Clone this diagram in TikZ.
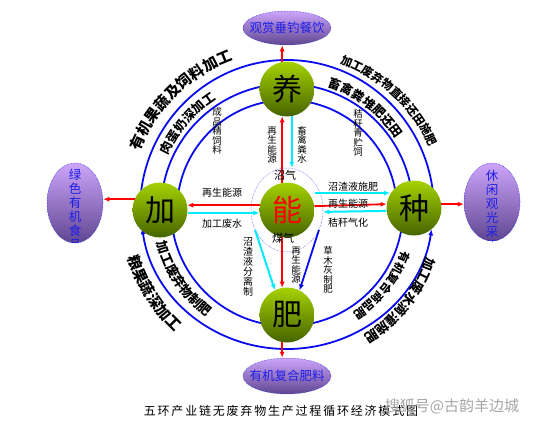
\documentclass[tikz,border=0pt]{standalone}
\usepackage{fontspec}
\setmainfont{Noto Sans CJK SC}
\usetikzlibrary{arrows.meta,calc,shapes.geometric,decorations.text}
\definecolor{gtop}{RGB}{165,210,0}
\definecolor{gbot}{RGB}{70,100,0}
\definecolor{ptop}{RGB}{205,165,250}
\definecolor{pbot}{RGB}{95,70,145}
\definecolor{myblue}{RGB}{10,10,240}
\definecolor{mycyan}{RGB}{0,235,255}
\definecolor{ptext}{RGB}{30,30,230}
\newcommand\fA{\bfseries\fontsize{15}{15}\selectfont}
\newcommand\fB{\bfseries\fontsize{12.5}{12.5}\selectfont}
\newcommand\fC{\bfseries\fontsize{11.5}{11.5}\selectfont}
\newcommand\fD{\bfseries\fontsize{13}{13}\selectfont}
\tikzset{
  gnode/.style={circle, minimum size=55pt, inner sep=0pt, top color=gtop, bottom color=gbot, font=\fontsize{30}{30}\selectfont},
  pnode/.style={ellipse, inner sep=0pt, top color=ptop, bottom color=pbot, draw=ptext, densely dotted, line width=0.5pt},
  ptxt/.style={text=ptext, font=\fontsize{12.5}{14}\selectfont, inner sep=0pt, align=center},
  redarr/.style={draw=red, line width=1.8pt, -{Latex[length=6pt,width=5pt]}},
  cyanarr/.style={draw=mycyan, line width=2pt, -{Latex[length=6pt,width=5pt]}},
  bluearr/.style={draw=myblue, line width=1.8pt, -{Latex[length=6pt,width=5pt]}},
  arcline/.style={draw=myblue, line width=1.8pt},
  lab/.style={font=\fontsize{10}{10}\selectfont, inner sep=0pt},
  vlab/.style={font=\fontsize{9.5}{9.5}\selectfont, inner sep=0pt, align=center},
  arctext/.style={decorate, decoration={text along path, text align=center, text={#1}}},
}
\begin{document}
\begin{tikzpicture}[x=1pt,y=1pt]
\fill[white] (0,0) rectangle (553,-423);
\useasboundingbox (0,0) rectangle (553,-423);
\coordinate (C) at (287,-210);

% arcs
\draw[arcline] ($(C)+(176:147pt and 150pt)$) arc[start angle=176, end angle=4, x radius=147pt, y radius=150pt];
\draw[arcline] ($(C)+(170:126pt)$) arc[start angle=170, end angle=10, radius=126pt];
\draw[arcline] ($(C)+(173:110pt)$) arc[start angle=173, end angle=8, radius=110pt];
\draw[arcline, {Latex[length=6pt,width=5pt]}-{Latex[length=6pt,width=5pt]}] ($(C)+(187.5:146pt and 139pt)$) arc[start angle=187.5, end angle=352, x radius=146pt, y radius=139pt];
\draw[arcline] ($(C)+(185:116pt)$) arc[start angle=185, end angle=355, radius=116pt];

% arc texts
\path[arctext={|\fA|有机果蔬及饲料加工}] ($(C)+(175:159pt)$) arc[start angle=175, end angle=93, radius=159pt];
\path[arctext={|\fB|肉蛋奶深加工}] ($(C)+(165:131pt)$) arc[start angle=165, end angle=113, radius=131pt];
\path[arctext={|\fC|加工废弃物直接还田施肥}] ($(C)+(85:156pt)$) arc[start angle=85, end angle=9, radius=156pt];
\path[arctext={|\fB|畜禽粪堆肥还田}] ($(C)+(85:130pt)$) arc[start angle=85, end angle=20, radius=130pt];
\path[arctext={|\fA|粮果蔬深加工}] ($(C)+(185:166pt)$) arc[start angle=185, end angle=239, radius=166pt];
\path[arctext={|\fD|加工废弃物制肥}] ($(C)+(185:134pt)$) arc[start angle=185, end angle=242, radius=134pt];
\path[arctext={|\fC|有机复合商品肥}] ($(C)+(-5:122pt)$) arc[start angle=-5, end angle=-72, radius=122pt];
\path[arctext={|\fD|加工废水滴灌施肥}] ($(C)+(0:147pt)$) arc[start angle=0, end angle=-77, radius=147pt];

% nodes
\node[gnode] (yang) at (287,-89) {养};
\node[gnode] (jia) at (160,-210) {加};
\node[gnode, text=red] (neng) at (287,-210) {能};
\node[gnode] (zhong) at (414,-208) {种};
\node[gnode] (fei) at (287,-315) {肥};
\node[draw=ptext!80, densely dotted, line width=0.5pt, ellipse, minimum width=72pt, minimum height=84pt, inner sep=0pt] (ring) at (C) {};

\node[pnode, minimum width=88pt, minimum height=34pt] (guan) at (287,-28) {};
\node[ptxt] (guant) at (guan) {观赏垂钓餐饮};
\node[pnode, minimum width=88pt, minimum height=36pt] (you) at (287,-376) {};
\node[ptxt] (yout) at (you) {有机复合肥料};
\node[pnode, minimum width=56pt, minimum height=80pt] (lv) at (75,-203) {};
\begin{scope}
\clip (75,-203) ellipse [x radius=28pt, y radius=40pt];
\node[ptxt] (lvt) at (75,-210) {绿\\色\\有\\机\\食\\品};
\end{scope}
\node[pnode, minimum width=56pt, minimum height=78pt] (xiu) at (492,-202) {};
\begin{scope}
\clip (492,-202) ellipse [x radius=28pt, y radius=39pt];
\node[ptxt] (xiut) at (492,-211) {休\\闲\\观\\光\\采\\摘};
\end{scope}

% outward red arrows
\draw[redarr] (yang.100) -- (yang.100 |- guan.south);
\draw[redarr] (jia.157) -- (jia.157 -| lv.east);
\draw[redarr] (zhong.8) -- (zhong.8 -| xiu.west);
\draw[redarr] (fei.260) -- (fei.260 |- you.north);

% center links
\draw[redarr] (neng.100) -- (neng.100 |- yang.260);
\draw[cyanarr] (yang.-80) -- (yang.-80 |- ring.north);
\draw[redarr] (neng.170) -- (jia.10);
\draw[cyanarr] (jia.-6) -- (neng.186);
\coordinate (s1) at (315,-193);
\draw[cyanarr] (s1) -- (s1 -| zhong.150);
\draw[redarr] (neng.8) -- (zhong.172);
\draw[cyanarr] (zhong.186) -- (ring.-3);
\draw[redarr] (neng.-100) -- (fei.100);
\draw[cyanarr] (ring.212) -- (fei.116);
\draw[bluearr] (ring.-32) -- (fei.63);

% labels
\node[lab] (l1) at (222,-193) {再生能源};
\node[lab] (l2) at (222,-224) {加工废水};
\node[lab] (l3) at (353,-187) {沼渣液施肥};
\node[lab] (l4) at (348,-204) {再生能源};
\node[lab] (l5) at (348,-223) {秸秆气化};
\node[font=\fontsize{11}{11}\selectfont, inner sep=0pt] (l6) at (285,-175) {沼气};
\node[font=\fontsize{11}{11}\selectfont, inner sep=0pt] (l7) at (283,-238) {煤气};
\node[vlab] (v1) at (272,-145) {再\\生\\能\\源};
\node[vlab] (v2) at (302,-145) {畜\\禽\\粪\\水};
\node[vlab] (v3) at (217,-131) {成\\品\\精\\饲\\料};
\node[vlab] (v4) at (358,-133) {秸\\秆\\青\\贮\\饲};
\node[vlab, font=\fontsize{10}{10}\selectfont] (v5) at (248,-267) {沼\\渣\\液\\分\\离\\制};
\node[vlab] (v6) at (296,-265) {再\\生\\能\\源};
\node[vlab] (v7) at (328,-270) {草\\木\\灰\\制\\肥};

% caption
\node[font=\fontsize{12}{12}\selectfont\addfontfeatures{LetterSpace=15}, inner sep=0pt] (cap) at (281,-411) {五环产业链无废弃物生产过程循环经济模式图};
\node[font=\fontsize{15}{15}\selectfont, text=gray!70, inner sep=0pt] (wm) at (452,-406) {搜狐号@古韵羊边城};
\end{tikzpicture}
\end{document}
